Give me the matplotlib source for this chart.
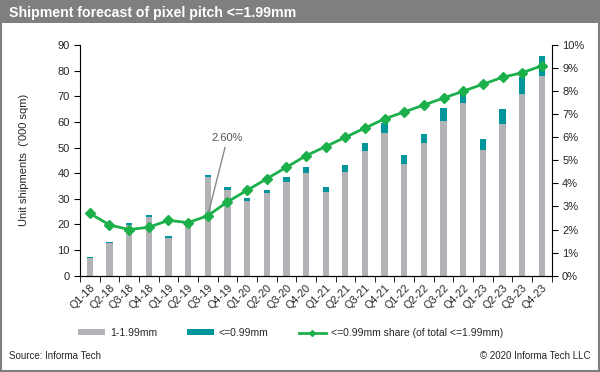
import numpy as np
import matplotlib
matplotlib.use("Agg")
import matplotlib.pyplot as plt
from matplotlib.patches import Rectangle
from matplotlib.lines import Line2D

plt.rcParams["font.family"] = ["Liberation Sans", "DejaVu Sans"]

quarters = ["Q1-18", "Q2-18", "Q3-18", "Q4-18", "Q1-19", "Q2-19", "Q3-19", "Q4-19",
            "Q1-20", "Q2-20", "Q3-20", "Q4-20", "Q1-21", "Q2-21", "Q3-21", "Q4-21",
            "Q1-22", "Q2-22", "Q3-22", "Q4-22", "Q1-23", "Q2-23", "Q3-23", "Q4-23"]
mid_pitch = [7.0, 12.6, 19.8, 23.0, 14.8, 19.2, 38.4, 33.4,
             29.1, 32.1, 36.7, 40.2, 32.8, 40.6, 48.8, 55.8,
             43.6, 51.6, 60.5, 67.2, 49.0, 59.2, 70.9, 78.0]
fine_pitch = [0.4, 0.7, 0.7, 0.7, 0.7, 0.8, 0.9, 1.1,
              1.1, 1.3, 1.9, 2.1, 1.9, 2.6, 3.1, 3.9,
              3.3, 3.7, 4.8, 5.5, 4.3, 5.7, 6.7, 7.8]
share = [2.7, 2.2, 2.0, 2.1, 2.4, 2.3, 2.6, 3.2,
         3.7, 4.2, 4.7, 5.2, 5.6, 6.0, 6.4, 6.8,
         7.1, 7.4, 7.7, 8.0, 8.3, 8.6, 8.8, 9.1]

GRAY = "#b1b3b6"
TEAL = "#00959a"
GREEN = "#1cb04b"
TXT = "#262626"

fig = plt.figure(figsize=(6, 3.72), dpi=100)
fig.patch.set_facecolor("white")

# header bar + frame
fig.add_artist(Rectangle((0, 1 - 23 / 372), 1, 23 / 372, transform=fig.transFigure,
                         facecolor="#7f7f7f", edgecolor="none"))
fig.add_artist(Rectangle((0.002, 0.003), 0.996, 0.994, transform=fig.transFigure,
                         facecolor="none", edgecolor="#7f7f7f", lw=1.5))
fig.text(9 / 600, 1 - 12.5 / 372, "Shipment forecast of pixel pitch <=1.99mm",
         color="white", fontsize=10.2, fontweight="bold", va="center", ha="left")

ax = fig.add_axes([80 / 600, 1 - 275.7 / 372, 471.7 / 600, 230.7 / 372])
x = np.arange(len(quarters))
ax.bar(x, mid_pitch, width=0.32, color=GRAY, zorder=2)
ax.bar(x, fine_pitch, width=0.32, bottom=mid_pitch, color=TEAL, zorder=2)
ax.set_xlim(-0.5, len(quarters) - 0.5)
ax.set_ylim(0, 90)
ax.set_yticks(range(0, 91, 10))
ax.set_xticks(x)
ax.set_xticklabels(quarters, rotation=45, ha="right", rotation_mode="anchor")
ax.set_xticks(np.arange(-0.5, len(quarters)), minor=True)
ax.tick_params(axis="x", which="major", length=0, labelsize=7.8, colors=TXT, pad=5)
ax.tick_params(axis="x", which="minor", length=4, direction="out", color="black")
ax.tick_params(axis="y", length=4, labelsize=8, colors=TXT, color="black")
ax.spines["top"].set_visible(False)
ax.spines["right"].set_visible(False)
ax.set_ylabel("Unit shipments  ('000 sqm)", fontsize=8, color=TXT, labelpad=20)

ax2 = ax.twinx()
ax2.plot(x, share, color=GREEN, lw=2, marker="D", ms=5.5, zorder=3)
ax2.set_ylim(0, 10)
ax2.set_yticks(range(0, 11))
ax2.set_yticklabels([f"{v}%" for v in range(0, 11)])
ax2.tick_params(axis="y", length=4, labelsize=8, colors=TXT, color="black")
ax2.spines["top"].set_visible(False)
ax2.spines["left"].set_visible(False)
ax2.annotate("2.60%", xy=(6, share[6]), xytext=(7.0, 5.75), fontsize=8, color="#555555",
             ha="center", va="bottom",
             arrowprops=dict(arrowstyle="-", color="#888888", lw=1, shrinkA=1, shrinkB=3))

handles = [Rectangle((0, 0), 1, 1, facecolor=GRAY),
           Rectangle((0, 0), 1, 1, facecolor=TEAL),
           Line2D([], [], color=GREEN, lw=2, marker="D", ms=3)]
labels = ["1-1.99mm", "<=0.99mm", "<=0.99mm share (of total <=1.99mm)"]
fig.legend(handles, labels, loc="center left", bbox_to_anchor=(78 / 600, 1 - 333 / 372),
           ncol=3, frameon=False, fontsize=7.5, handlelength=2.6, handleheight=0.45,
           columnspacing=2.9, handletextpad=0.45, borderpad=0, borderaxespad=0,
           labelcolor=TXT)

fig.text(9 / 600, 1 - 356 / 372, "Source: Informa Tech", fontsize=7, color=TXT, va="center")
fig.text(590 / 600, 1 - 356 / 372, "\u00a9 2020 Informa Tech LLC", fontsize=7, color=TXT,
         va="center", ha="right")

fig.savefig("out.png", dpi=100, facecolor="white")
